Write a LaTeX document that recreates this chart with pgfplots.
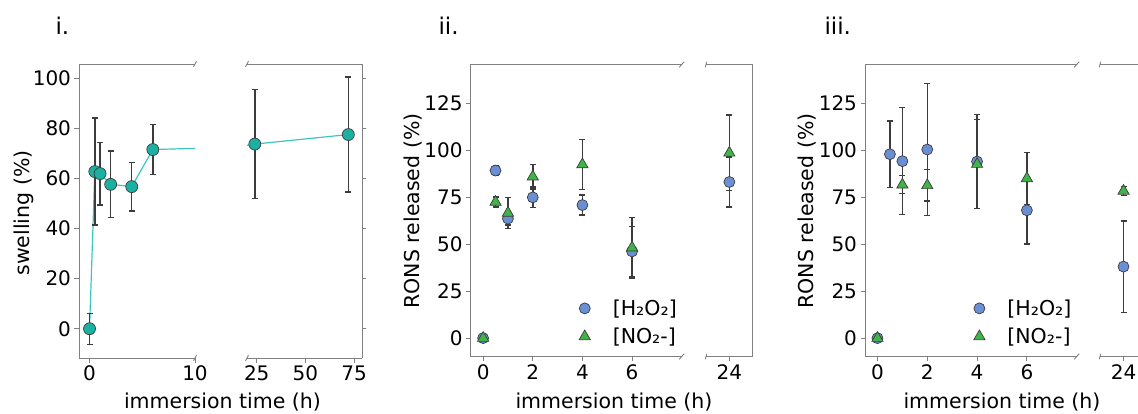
\documentclass[border=0pt]{standalone}
\usepackage{pgfplots}
\pgfplotsset{compat=1.18}
\usepackage{fontspec}
\setmainfont{DejaVu Sans}

\definecolor{spine}{HTML}{808080}
\definecolor{tealm}{HTML}{1CB0A2}
\definecolor{teall}{HTML}{3CC6BE}
\definecolor{bluem}{HTML}{6B8FD3}
\definecolor{greenm}{HTML}{3FB449}
\definecolor{errc}{HTML}{3C3C3C}

\newcommand{\tickfont}{\fontsize{20}{24}\selectfont}
\newcommand{\labfont}{\fontsize{20.5}{24}\selectfont}

\pgfplotsset{
  brk/.style={
    scale only axis,
    anchor=south west,
    /pgf/number format/assume math mode=true,
    tick label style={font=\tickfont, text=black},
    tick align=outside,
    major tick length=4.5pt,
    minor tick num=0,
    scaled ticks=false,
    error bars/y dir=both,
    error bars/y explicit,
    error bars/error bar style={errc, line width=1.5pt},
    error bars/error mark options={rotate=90, errc, line width=1.3pt, mark size=3pt},
  },
  leftpart/.style={brk, axis x line*=box, axis y line*=left,
    xtick pos=left, ytick pos=left,
    axis line style={spine, line width=0.9pt}, tick style={spine, line width=0.9pt}},
  rightpart/.style={brk, axis x line*=box, axis y line*=right,
    xtick pos=left, ytick pos=right, yticklabels={},
    axis line style={spine, line width=0.9pt}, tick style={spine, line width=0.9pt}},
  h2o2/.style={only marks, mark=*, mark size=5.5pt,
    mark options={fill=bluem, draw=errc, line width=0.7pt}},
  no2/.style={only marks, mark=triangle*, mark size=6.5pt,
    mark options={fill=greenm, draw=errc, line width=0.7pt}},
  swell/.style={teall, line width=1.2pt, mark=*, mark size=6pt,
    mark options={fill=tealm, draw=errc, line width=0.7pt}},
  keyed/.style={
    legend style={draw=none, fill=none, font=\labfont,
      at={(axis description cs:0.497,0.025)}, anchor=south west,
      row sep=7pt, cells={anchor=west}},
    legend image code/.code={\path[draw=none, fill=none] (-6pt,-6pt) rectangle (26pt,6pt);
      \draw[##1] plot coordinates {(0pt,0pt)};}},
}

% swelling (%), panel i
\pgfplotstableread{
t    y     e
0    0.0   6.2
0.5  62.8  21.4
1    62.0  12.5
2    57.7  13.3
4    56.8  9.7
6    71.6  10.0
24   73.8  21.7
72   77.6  23.0
}\swelling

% RONS released (%), panel ii
\pgfplotstableread{
t    y     e
0    0.0   0.8
0.5  89.3  2.5
1    63.7  3.5
2    75.0  5.5
4    70.9  5.3
6    46.2  13.3
24   83.2  13.3
}\iiH
\pgfplotstableread{
t    y     e
0    0.0   0.8
0.5  72.5  2.7
1    66.7  8.2
2    86.0  6.5
4    92.5  13.3
6    48.2  16.2
24   98.7  20.2
}\iiN

% RONS released (%), panel iii
\pgfplotstableread{
t    y      e
0    0.0    0.8
0.5  98.0   17.7
1    94.3   28.4
2    100.5  35.3
4    94.1   25.0
6    68.1   18.0
24   38.1   24.3
}\iiiH
\pgfplotstableread{
t    y     e
0    0.0   0.8
1    81.7  4.8
2    81.4  8.3
4    92.7  23.8
6    85.1  13.8
24   78.4  2.5
}\iiiN

\begin{document}
\begin{tikzpicture}
\useasboundingbox (0pt,0pt) rectangle (1138pt,413pt);

% ---------------- panel i ----------------
\begin{axis}[leftpart, name=iL, at={(79pt,55pt)}, width=116pt, height=294pt,
  xmin=-1, xmax=10, ymin=-11.7, ymax=105.8,
  xtick={0,10}, ytick={0,20,...,100}]
  \addplot[swell, error bars/.cd, y dir=both, y explicit]
    table[x=t, y=y, y error=e] {\swelling};
\end{axis}
\begin{axis}[rightpart, name=iR, at={(247pt,55pt)}, width=115pt, height=294pt,
  xmin=20, xmax=79, ymin=-11.7, ymax=105.8,
  xtick={25,50,75}, ytick={0,20,...,100}]
  \addplot[swell, error bars/.cd, y dir=both, y explicit]
    table[x=t, y=y, y error=e] {\swelling};
\end{axis}

% ---------------- panel ii ----------------
\begin{axis}[leftpart, keyed, name=iiL, at={(470.7pt,56.5pt)}, width=211pt, height=292pt,
  xmin=-0.5, xmax=8, ymin=-9.8, ymax=145.8,
  xtick={0,2,4,6}, ytick={0,25,...,125}]
  \addplot[h2o2, error bars/.cd, y dir=both, y explicit]
    table[x=t, y=y, y error=e] {\iiH};
  \addlegendentry{[H₂O₂]}
  \addplot[no2, error bars/.cd, y dir=both, y explicit]
    table[x=t, y=y, y error=e] {\iiN};
  \addlegendentry{[NO₂-]}
\end{axis}
\begin{axis}[rightpart, name=iiR, at={(706pt,56.5pt)}, width=46.7pt, height=292pt,
  xmin=23, xmax=25, ymin=-9.8, ymax=145.8,
  xtick={24}, ytick=\empty]
  \addplot[h2o2, error bars/.cd, y dir=both, y explicit]
    table[x=t, y=y, y error=e] {\iiH};
  \addplot[no2, error bars/.cd, y dir=both, y explicit]
    table[x=t, y=y, y error=e] {\iiN};
\end{axis}

% ---------------- panel iii ----------------
\begin{axis}[leftpart, keyed, name=iiiL, at={(865pt,56.5pt)}, width=211.7pt, height=292pt,
  xmin=-0.5, xmax=8, ymin=-9.8, ymax=145.8,
  xtick={0,2,4,6}, ytick={0,25,...,125}]
  \addplot[h2o2, error bars/.cd, y dir=both, y explicit]
    table[x=t, y=y, y error=e] {\iiiH};
  \addlegendentry{[H₂O₂]}
  \addplot[no2, error bars/.cd, y dir=both, y explicit]
    table[x=t, y=y, y error=e] {\iiiN};
  \addlegendentry{[NO₂-]}
\end{axis}
\begin{axis}[rightpart, name=iiiR, at={(1100pt,56.5pt)}, width=47pt, height=292pt,
  xmin=23, xmax=25, ymin=-9.8, ymax=145.8,
  xtick={24}, ytick=\empty]
  \addplot[h2o2, error bars/.cd, y dir=both, y explicit]
    table[x=t, y=y, y error=e] {\iiiH};
  \addplot[no2, error bars/.cd, y dir=both, y explicit]
    table[x=t, y=y, y error=e] {\iiiN};
\end{axis}

% break marks
\foreach \a/\dx in {iL/1.5, iiL/2.5, iiiL/2.5} {
  \draw[spine, line width=0.9pt] ([shift={(-\dx pt,-2.8pt)}]\a.north east) -- ([shift={(\dx pt,2.8pt)}]\a.north east);
  \draw[spine, line width=0.9pt] ([shift={(-\dx pt,-2.8pt)}]\a.south east) -- ([shift={(\dx pt,2.8pt)}]\a.south east);
}
\foreach \a/\dx in {iR/1.5, iiR/0.8, iiiR/0.8} {
  \draw[spine, line width=0.9pt] ([shift={(-\dx pt,-2.8pt)}]\a.north west) -- ([shift={(\dx pt,2.8pt)}]\a.north west);
  \draw[spine, line width=0.9pt] ([shift={(-\dx pt,-2.8pt)}]\a.south west) -- ([shift={(\dx pt,2.8pt)}]\a.south west);
}

% labels
\node[font=\fontsize{23}{26}\selectfont, anchor=base west] at (52pt,378pt) {i.};
\node[font=\fontsize{23}{26}\selectfont, anchor=base west] at (435pt,378pt) {ii.};
\node[font=\fontsize{23}{26}\selectfont, anchor=base west] at (821pt,378pt) {iii.};
\node[font=\labfont, anchor=base] at (222.5pt,4.5pt) {immersion time (h)};
\node[font=\labfont, anchor=base] at (614pt,4.5pt) {immersion time (h)};
\node[font=\labfont, anchor=base] at (1002pt,4.5pt) {immersion time (h)};
\node[font=\labfont, rotate=90] at (24pt,200pt) {swelling (\%)};
\node[font=\labfont, rotate=90] at (413pt,202pt) {RONS released (\%)};
\node[font=\labfont, rotate=90] at (806.7pt,202pt) {RONS released (\%)};
\end{tikzpicture}
\end{document}
